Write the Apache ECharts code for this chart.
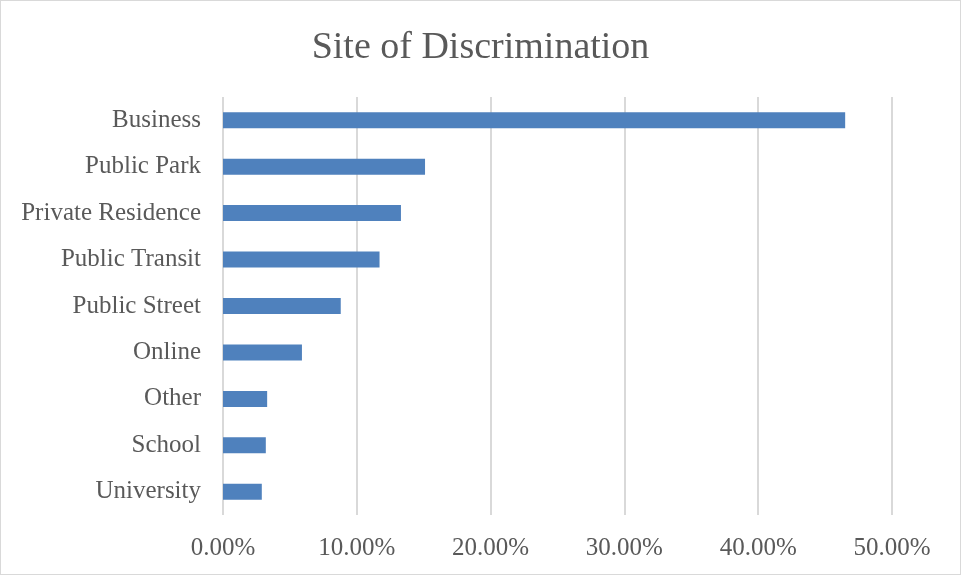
<!DOCTYPE html>
<html>
<head>
<meta charset="utf-8">
<script src="https://cdn.jsdelivr.net/npm/echarts@6/dist/echarts.min.js"></script>
<style>
  html, body { margin: 0; padding: 0; background: #fff; }
  #main { width: 959px; height: 573px; border: 1px solid #d9d9d9; }
</style>
</head>
<body>
<div id="main"></div>
<script>
// categories top to bottom
var sites = ['Business', 'Public Park', 'Private Residence', 'Public Transit',
    'Public Street', 'Online', 'Other', 'School', 'University'];
// share of responses (fraction)
var shares = [0.465, 0.151, 0.133, 0.117, 0.088, 0.059, 0.033, 0.032, 0.029];
var xTicks = [0, 0.1, 0.2, 0.3, 0.4, 0.5];

var serif = '"Liberation Serif", "DejaVu Serif", serif';
var chart = echarts.init(document.getElementById('main'));
chart.setOption({
    animation: false,
    title: {
        text: 'Site of Discrimination',
        left: 'center',
        top: 23,
        textStyle: { fontFamily: serif, fontSize: 38, fontWeight: 'normal', color: '#595959' }
    },
    grid: { left: 222, right: 68, top: 96, bottom: 59 },
    xAxis: {
        type: 'value',
        min: xTicks[0],
        max: xTicks[xTicks.length - 1],
        interval: 0.1,
        axisLine: { show: false },
        axisTick: { show: false },
        axisLabel: {
            margin: 21,
            fontFamily: serif, fontSize: 25, color: '#595959',
            formatter: function (v) { return (v * 100).toFixed(2) + '%'; }
        },
        splitLine: { lineStyle: { color: '#d9d9d9', width: 2 } }
    },
    yAxis: {
        type: 'category',
        inverse: true,
        data: sites,
        axisLine: { show: false },
        axisTick: { show: false },
        axisLabel: { margin: 22, fontFamily: serif, fontSize: 25, color: '#595959' }
    },
    series: [{
        type: 'bar',
        data: shares,
        barWidth: 16,
        itemStyle: { color: '#4f81bd' }
    }]
});
</script>
</body>
</html>
